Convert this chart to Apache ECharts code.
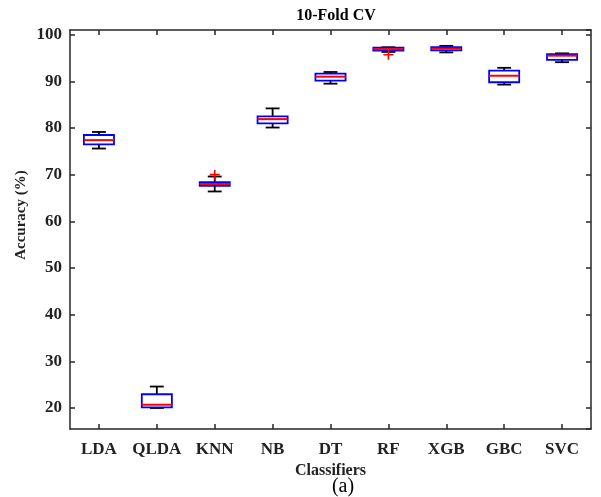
<!DOCTYPE html>
<html><head><meta charset="utf-8">
<script src="https://cdn.jsdelivr.net/npm/echarts@6/dist/echarts.min.js"></script>
<style>html,body{margin:0;padding:0;background:#fff}#c{width:601px;height:497px}</style>
</head><body><div id="c"></div>
<script>
const categories = ['LDA','QLDA','KNN','NB','DT','RF','XGB','GBC','SVC'];
const lowerWhisker = [75.6, 20.0, 66.4, 80.1, 89.5, 96.3, 96.2, 89.3, 94.1];
const q1 =           [76.5, 20.15, 67.6, 81.0, 90.15, 96.6, 96.65, 89.8, 94.6];
const median =       [77.4, 20.7, 68.0, 81.9, 91.0, 96.9, 97.0, 91.2, 95.5];
const q3 =           [78.5, 22.95, 68.4, 82.5, 91.65, 97.2, 97.3, 92.3, 95.85];
const upperWhisker = [79.15, 24.6, 69.6, 84.2, 92.0, 97.3, 97.6, 92.9, 96.0];
const outlierCat = [2, 5];
const outlierVal = [70.0, 95.7];

const boxData = categories.map((c, i) => [i, lowerWhisker[i], q1[i], median[i], q3[i], upperWhisker[i]]);
const outData = outlierCat.map((c, i) => [c, outlierVal[i]]);

const FONT = '"Liberation Serif", "Times New Roman", serif';
const AX = '#262626';
const chart = echarts.init(document.getElementById('c'), null, {renderer: 'canvas'});

function renderBox(params, api) {
  const x = api.value(0);
  const bw = api.size([1, 0])[0];
  const half = bw * 0.26, cap = bw * 0.12;
  const pLo = api.coord([x, api.value(1)]);
  const pQ1 = api.coord([x, api.value(2)]);
  const pMed = api.coord([x, api.value(3)]);
  const pQ3 = api.coord([x, api.value(4)]);
  const pHi = api.coord([x, api.value(5)]);
  const cx = pMed[0];
  const blk = {stroke: '#000', lineWidth: 1.8};
  return {
    type: 'group',
    children: [
      {type: 'line', shape: {x1: cx, y1: pHi[1], x2: cx, y2: pQ3[1]}, style: blk},
      {type: 'line', shape: {x1: cx, y1: pQ1[1], x2: cx, y2: pLo[1]}, style: blk},
      {type: 'line', shape: {x1: cx - cap, y1: pHi[1], x2: cx + cap, y2: pHi[1]}, style: blk},
      {type: 'line', shape: {x1: cx - cap, y1: pLo[1], x2: cx + cap, y2: pLo[1]}, style: blk},
      {type: 'rect', shape: {x: cx - half, y: pQ3[1], width: 2 * half, height: pQ1[1] - pQ3[1]},
        style: {fill: '#fff', stroke: '#0000ff', lineWidth: 1.8}},
      {type: 'line', shape: {x1: cx - half, y1: pMed[1], x2: cx + half, y2: pMed[1]},
        style: {stroke: '#ff0000', lineWidth: 2}}
    ]
  };
}

const yCommon = {
  type: 'value', min: 15.5, max: 101, splitNumber: 9,
  axisLine: {show: true, lineStyle: {color: AX, width: 1.5}},
  axisTick: {show: true, inside: true, length: 5, lineStyle: {color: AX, width: 1.5}},
  splitLine: {show: false}
};

chart.setOption({
  animation: false,
  backgroundColor: '#fff',
  grid: {left: 70, right: 10, top: 30, bottom: 68},
  title: {
    text: '10-Fold CV', left: 331, top: 3, textAlign: 'center',
    textStyle: {fontFamily: FONT, fontWeight: 'bold', fontSize: 16, color: '#000'}
  },
  xAxis: [{
    type: 'category', data: categories, boundaryGap: true,
    axisLine: {show: true, lineStyle: {color: AX, width: 1.5}},
    axisTick: {show: true, inside: true, length: 5, alignWithLabel: true, interval: 0, lineStyle: {color: AX, width: 1.5}},
    axisLabel: {fontFamily: FONT, fontWeight: 'bold', fontSize: 17, color: '#222', margin: 12, interval: 0},
    name: 'Classifiers', nameLocation: 'middle', nameGap: 28,
    nameTextStyle: {fontFamily: FONT, fontWeight: 'bold', fontSize: 16, color: '#222'}
  }, {
    type: 'category', data: categories, boundaryGap: true, position: 'top',
    axisLine: {show: true, lineStyle: {color: AX, width: 1.5}},
    axisTick: {show: true, inside: true, length: 5, alignWithLabel: true, interval: 0, lineStyle: {color: AX, width: 1.5}},
    axisLabel: {show: false}
  }],
  yAxis: [Object.assign({}, yCommon, {
    position: 'left',
    axisLabel: {fontFamily: FONT, fontWeight: 'bold', fontSize: 17, color: '#222', margin: 8,
      showMinLabel: false, showMaxLabel: false,
      formatter: v => (Math.abs(v % 10) < 1e-6 ? String(v) : '')}
  }), Object.assign({}, yCommon, {
    position: 'right', axisLabel: {show: false}
  })],
  graphic: [
    {type: 'text', x: 21, y: 215, rotation: Math.PI / 2,
      style: {text: 'Accuracy (%)', font: 'bold 15px ' + FONT, fill: '#222', align: 'center', verticalAlign: 'middle'}},
    {type: 'text', x: 343, y: 487,
      style: {text: '(a)', font: '20px ' + FONT, fill: '#000', align: 'center', verticalAlign: 'middle'}}
  ],
  series: [{
    type: 'custom', xAxisIndex: 0, yAxisIndex: 0,
    renderItem: renderBox, data: boxData, encode: {x: 0, y: [1, 2, 3, 4, 5]}
  }, {
    type: 'scatter', xAxisIndex: 0, yAxisIndex: 0, data: outData,
    symbol: 'path://M0,4.2L10,4.2L10,5.8L0,5.8Z M4.2,0L5.8,0L5.8,10L4.2,10Z',
    symbolSize: 10, itemStyle: {color: '#ff0000', opacity: 1}, z: 5
  }]
});
</script></body></html>
